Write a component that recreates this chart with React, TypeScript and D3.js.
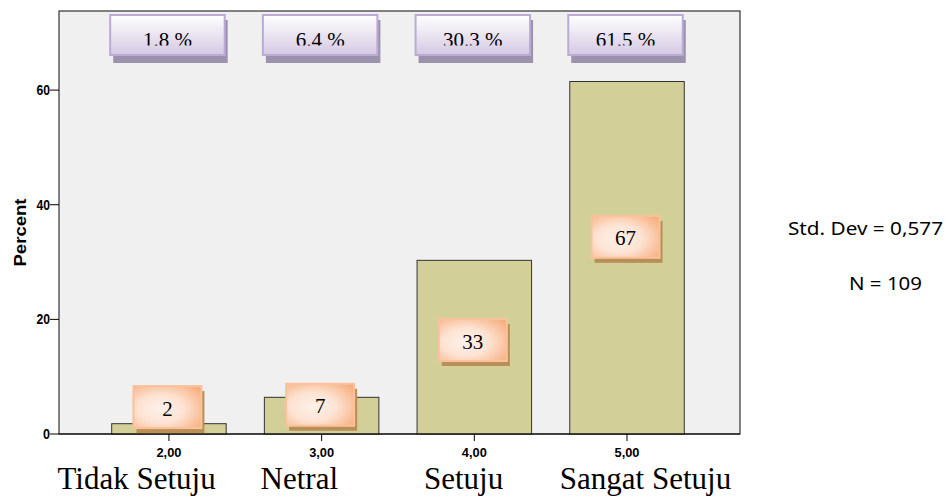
import * as d3 from "d3";

// values
const codes = [2, 3, 4, 5];
const tickLabels = ["2,00", "3,00", "4,00", "5,00"];
const percents = [1.8, 6.4, 30.3, 61.5];
const percentLabels = ["1.8 %", "6.4 %", "30.3 %", "61.5 %"];
const counts = [2, 7, 33, 67];
const answers = ["Tidak Setuju", "Netral", "Setuju", "Sangat Setuju"];
const yTicks = [0, 20, 40, 60];
// where the count callouts sit (percent units) and where answer text starts (code units)
const countLabelAt = [4.7, 5.1, 16.4, 34.4];
const answerStartAt = [1.27, 2.6, 3.67, 4.56];
const stats = ["Std. Dev = 0,577", "N = 109"];

const W = 948;
const H = 498;
const left = 59;
const right = 740;
const top = 11;
const bottom = 434;

export default function App() {
  const x = d3.scaleLinear().domain([1.28, 5.74]).range([left, right]);
  const y = d3.scaleLinear().domain([0, 73.8]).range([bottom, top]);
  const barW = x(2.75) - x(2);
  const boxW = 68;
  const boxH = 42;

  return (
    <svg
      width={W}
      height={H}
      style={{ position: "fixed", left: 0, top: 0, background: "#fff" }}
    >
      <defs>
        <linearGradient id="lav" x1="0" y1="0" x2="0" y2="1">
          <stop offset="0" stopColor="#ffffff" />
          <stop offset="1" stopColor="#d5c9e3" />
        </linearGradient>
        <radialGradient id="peach" cx="0.4" cy="0.55" r="0.75">
          <stop offset="0" stopColor="#fef1ea" />
          <stop offset="0.45" stopColor="#fde3d3" />
          <stop offset="1" stopColor="#f7ad7c" />
        </radialGradient>
        <clipPath id="topclip">
          <rect x={0} y={0} width={W} height={45.5} />
        </clipPath>
      </defs>

      {/* plot background and frame */}
      <rect
        x={left}
        y={top}
        width={right - left}
        height={bottom - top}
        fill="#f0f0f0"
        stroke="#333"
        strokeWidth={1.2}
      />

      {/* bars */}
      {codes.map((c, i) => (
        <rect
          key={c}
          x={x(c) - barW / 2}
          y={y(percents[i])}
          width={barW}
          height={bottom - y(percents[i])}
          fill="#d3cf98"
          stroke="#333"
          strokeWidth={1}
        />
      ))}

      {/* x axis */}
      <line x1={left} x2={right} y1={bottom} y2={bottom} stroke="#000" strokeWidth={1.2} />
      {codes.map((c, i) => (
        <g key={c}>
          <line x1={x(c)} x2={x(c)} y1={bottom} y2={bottom + 7} stroke="#000" />
          <text
            x={x(c)}
            y={457}
            textAnchor="middle"
            fontFamily="Liberation Sans, Arial, sans-serif"
            fontWeight="bold"
            fontSize={13.5}
            textLength={25}
            lengthAdjust="spacingAndGlyphs"
          >
            {tickLabels[i]}
          </text>
        </g>
      ))}

      {/* y axis */}
      {yTicks.map((t) => (
        <g key={t}>
          <line x1={left - 9} x2={left} y1={y(t)} y2={y(t)} stroke="#000" />
          <text
            x={left - 9}
            y={y(t) + 5}
            textAnchor="end"
            fontFamily="Liberation Sans, Arial, sans-serif"
            fontWeight="bold"
            fontSize={14}
            textLength={t === 0 ? 7 : 13.5}
            lengthAdjust="spacingAndGlyphs"
          >
            {t}
          </text>
        </g>
      ))}
      <text
        transform={`translate(26,${(bottom + top) / 2 + 10}) rotate(-90)`}
        textAnchor="middle"
        fontFamily="Liberation Sans, Arial, sans-serif"
        fontWeight="bold"
        fontSize={16}
        textLength={68}
        lengthAdjust="spacingAndGlyphs"
      >
        Percent
      </text>

      {/* percent callouts along the top */}
      {codes.map((c, i) => {
        const bx = x(c) - 1.5 - barW / 2;
        return (
          <g key={c}>
            <rect x={bx + 3} y={20} width={barW} height={43} fill="#9c92ad" />
            <rect
              x={bx}
              y={15}
              width={barW}
              height={40}
              fill="url(#lav)"
              stroke="#bba9d6"
              strokeWidth={2}
            />
            <text
              x={bx + barW / 2}
              y={47}
              textAnchor="middle"
              fontFamily="Liberation Serif, Times New Roman, serif"
              fontSize={21}
              clipPath="url(#topclip)"
            >
              {percentLabels[i]}
            </text>
          </g>
        );
      })}

      {/* count callouts */}
      {codes.map((c, i) => {
        const cx = x(c) - 1.5;
        const cy = y(countLabelAt[i]);
        return (
          <g key={c}>
            <rect
              x={cx - boxW / 2 + 3}
              y={cy - boxH / 2 + 5}
              width={boxW}
              height={boxH}
              fill="#b98f58"
            />
            <rect
              x={cx - boxW / 2}
              y={cy - boxH / 2}
              width={boxW}
              height={boxH}
              fill="url(#peach)"
              stroke="#f9c29c"
              strokeWidth={2}
            />
            <text
              x={cx}
              y={cy + 8.5}
              textAnchor="middle"
              fontFamily="Liberation Serif, Times New Roman, serif"
              fontSize={21}
            >
              {counts[i]}
            </text>
          </g>
        );
      })}

      {/* answer names under the axis */}
      {answers.map((a, i) => (
        <text
          key={a}
          x={x(answerStartAt[i])}
          y={489}
          fontFamily="Liberation Serif, Times New Roman, serif"
          fontSize={31}
        >
          {a}
        </text>
      ))}

      {/* summary statistics */}
      <text
        x={943}
        y={235}
        textAnchor="end"
        fontFamily="Noto Sans, Open Sans, sans-serif"
        fontSize={18}
        textLength={155}
        lengthAdjust="spacingAndGlyphs"
      >
        {stats[0]}
      </text>
      <text
        x={849}
        y={290}
        fontFamily="Noto Sans, Open Sans, sans-serif"
        fontSize={18}
        textLength={73}
        lengthAdjust="spacingAndGlyphs"
      >
        {stats[1]}
      </text>
    </svg>
  );
}
